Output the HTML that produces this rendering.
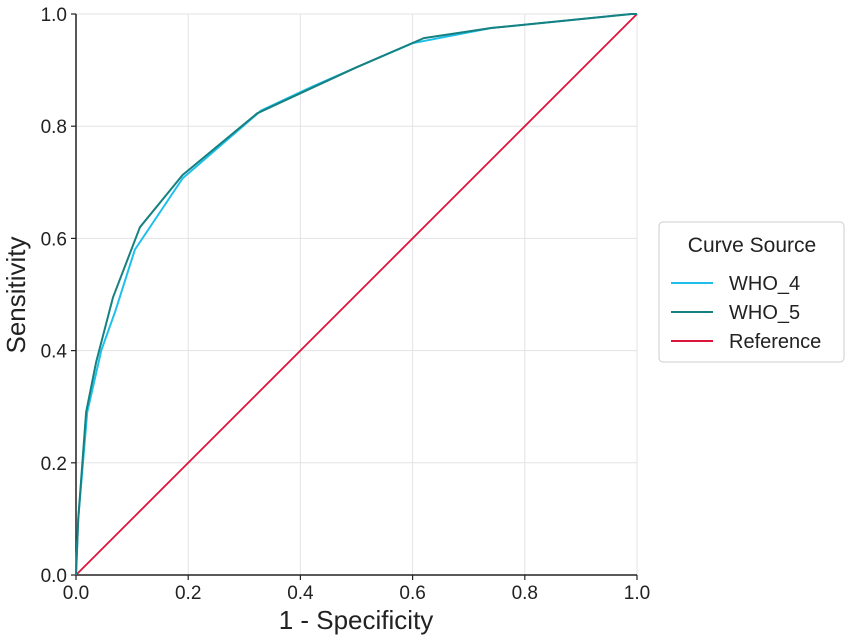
<!DOCTYPE html>
<html><head><meta charset="utf-8"><style>
body{margin:0;background:#fff;font-family:"Liberation Sans","DejaVu Sans",sans-serif}
</style></head><body>
<svg id="chart" width="851" height="638" xmlns="http://www.w3.org/2000/svg"></svg>
<script>
const xTicks=[0,0.2,0.4,0.6,0.8,1.0];
const yTicks=[0,0.2,0.4,0.6,0.8,1.0];
const who4X=[0,0.004,0.02,0.045,0.07,0.105,0.19,0.33,0.42,0.5,0.6,0.74,0.99,1];
const who4Y=[0,0.1,0.29,0.4,0.47,0.58,0.707,0.828,0.87,0.905,0.948,0.975,1,1];
const who5X=[0,0.004,0.018,0.036,0.066,0.114,0.19,0.323,0.42,0.5,0.62,0.74,0.99,1];
const who5Y=[0,0.1,0.29,0.38,0.495,0.62,0.713,0.823,0.868,0.905,0.957,0.975,1,1];
const refX=[0,1];const refY=[0,1];
const L=76,R=637,T=14,B=575;
const sx=v=>L+v*(R-L), sy=v=>B-v*(B-T);
const svg=document.getElementById('chart');
const NS='http://www.w3.org/2000/svg';
function mk(tag,attrs,parent){const e=document.createElementNS(NS,tag);for(const k in attrs)e.setAttribute(k,attrs[k]);(parent||svg).appendChild(e);return e;}
xTicks.forEach(t=>{
 const g=mk('line',{x1:sx(t),x2:sx(t),y1:T,y2:B,stroke:'#e3e3e3','stroke-width':1});
 
 
 mk('line',{x1:sx(t),x2:sx(t),y1:B,y2:B+5,stroke:'#222','stroke-width':1.2});
 const tx=mk('text',{x:sx(t),y:B+24,'text-anchor':'middle','font-size':19,fill:'#222'});tx.textContent=t.toFixed(1);
 
 
});
yTicks.forEach(t=>{
 const g=mk('line',{x1:L,x2:R,y1:sy(t),y2:sy(t),stroke:'#e3e3e3','stroke-width':1});
 
 
 mk('line',{x1:L-5,x2:L,y1:sy(t),y2:sy(t),stroke:'#222','stroke-width':1.2});
 const tx=mk('text',{x:L-9,y:sy(t)+7,'text-anchor':'end','font-size':19,fill:'#222'});tx.textContent=t.toFixed(1);
 
 
});
const ax=mk('path',{d:`M${L},${T}V${B}H${R}`,fill:'none',stroke:'#222','stroke-width':1.5});


function line(xs,ys,c,name,w){const p=mk('polyline',{points:xs.map((x,i)=>sx(x)+','+sy(ys[i])).join(' '),fill:'none',stroke:c,'stroke-width':w||2,'stroke-linejoin':'round'});
 
 }
line(refX,refY,'#dc143c','reference-line',1.8);
line(who4X,who4Y,'#1ec0ea','who4-line',2);
line(who5X,who5Y,'#178080','who5-line',2);
const xl=mk('text',{x:356,y:629,'text-anchor':'middle','font-size':26,fill:'#222'});xl.textContent='1 - Specificity';


const yl=mk('text',{x:25,y:295,'text-anchor':'middle','font-size':26,fill:'#222',transform:'rotate(-90 25 295)'});yl.textContent='Sensitivity';


const lg=mk('g',{});


mk('rect',{x:659,y:222,width:185,height:140,rx:4,fill:'#fff',stroke:'#ccc'},lg);
const lt=mk('text',{x:752,y:252,'text-anchor':'middle','font-size':21,fill:'#222'},lg);lt.textContent='Curve Source';
const items=[['WHO_4','#1ec0ea'],['WHO_5','#178080'],['Reference','#dc143c']];
items.forEach((it,i)=>{const y=283+i*29;
 const g=mk('g',{},lg);
 
 
 mk('line',{x1:671,x2:713,y1:y,y2:y,stroke:it[1],'stroke-width':2},g);
 const t=mk('text',{x:729,y:y+7,'font-size':20,fill:'#222'},g);t.textContent=it[0];});
</script>
</body></html>
